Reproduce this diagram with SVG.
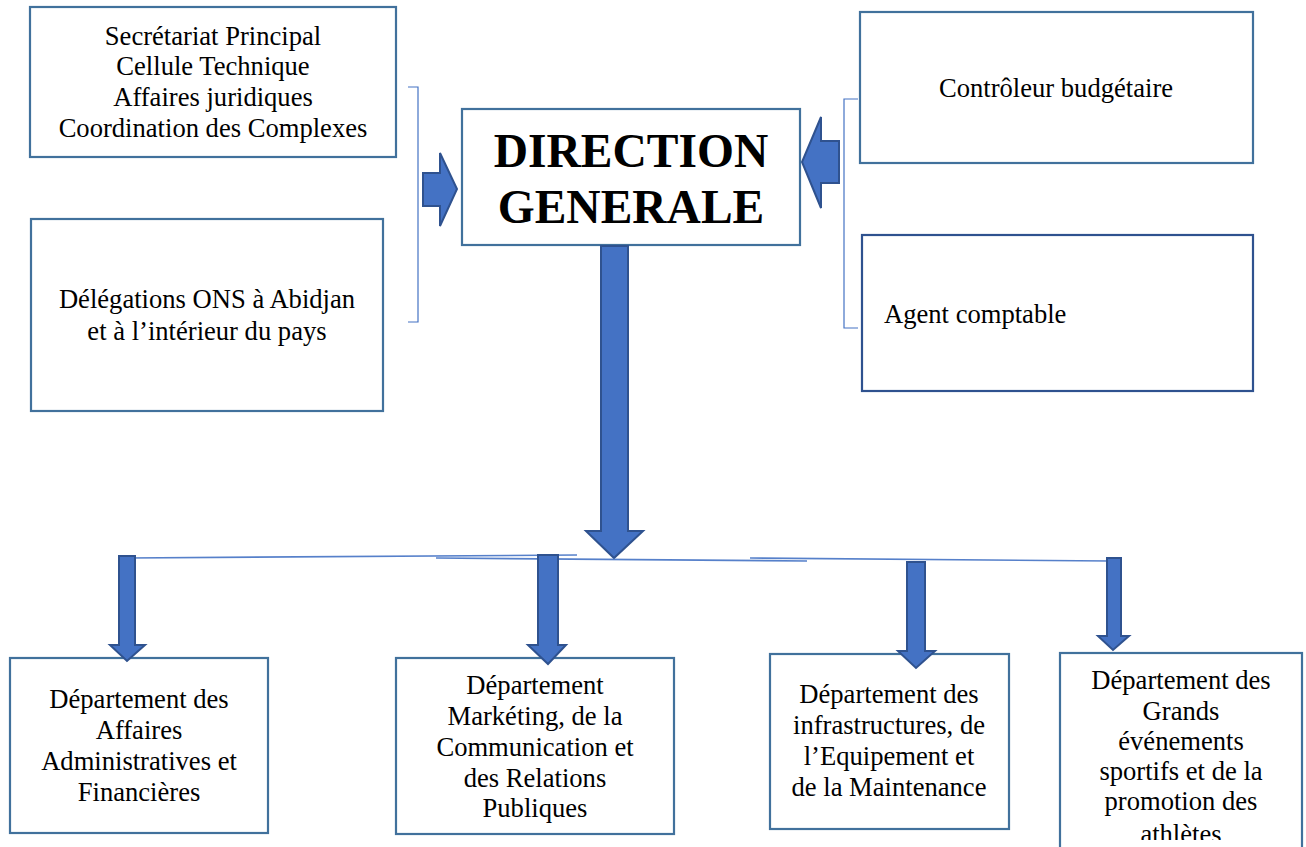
<svg xmlns="http://www.w3.org/2000/svg" width="1306" height="847" viewBox="0 0 1306 847">
<defs>
<style>
.box{fill:#fff;stroke:#41719C;stroke-width:2.2}
.box2{fill:#fff;stroke:#2F528F;stroke-width:2.2}
.arr{fill:#4472C4;stroke:#2F528F;stroke-width:2;stroke-linejoin:miter}
.br{fill:none;stroke:#4472C4;stroke-width:1.2}
.ln{fill:none;stroke:#4472C4;stroke-width:1.6;stroke-opacity:0.9}
text{font-family:"Liberation Serif","Times New Roman",serif;font-size:26.6px;fill:#000}
.c{text-anchor:middle}
.t{font-size:47.5px;font-weight:bold}
</style>
<clipPath id="clip4"><rect x="1060" y="653" width="242" height="187"/></clipPath>
</defs>
<rect width="1306" height="847" fill="#fff"/>

<g id="node-secretariat">
<rect class="box" x="30" y="7" width="366" height="150"/>
<text class="c" x="213" y="45">Secrétariat Principal</text>
<text class="c" x="213" y="75">Cellule Technique</text>
<text class="c" x="213" y="106">Affaires juridiques</text>
<text class="c" x="213" y="137">Coordination des Complexes</text>
</g>

<g id="node-delegations">
<rect class="box" x="31" y="219" width="352" height="192"/>
<text class="c" x="207" y="308">Délégations ONS à Abidjan</text>
<text class="c" x="207" y="340">et à l’intérieur du pays</text>
</g>

<g id="node-direction">
<rect class="box" x="462" y="109" width="338" height="136"/>
<text class="c t" x="631" y="167">DIRECTION</text>
<text class="c t" x="631" y="223">GENERALE</text>
</g>

<g id="node-controleur">
<rect class="box" x="860" y="12" width="393" height="151"/>
<text class="c" x="1056" y="97">Contrôleur budgétaire</text>
</g>

<g id="node-agent">
<rect class="box2" x="862" y="235" width="391" height="156"/>
<text x="884" y="323">Agent comptable</text>
</g>

<g id="node-daaf">
<rect class="box" x="10" y="658" width="258" height="175"/>
<text class="c" x="139" y="708">Département des</text>
<text class="c" x="139" y="739">Affaires</text>
<text class="c" x="139" y="770">Administratives et</text>
<text class="c" x="139" y="801">Financières</text>
</g>

<g id="node-dmcrp">
<rect class="box" x="396" y="658" width="278" height="176"/>
<text class="c" x="535" y="694">Département</text>
<text class="c" x="535" y="725">Markéting, de la</text>
<text class="c" x="535" y="756">Communication et</text>
<text class="c" x="535" y="787">des Relations</text>
<text class="c" x="535" y="817">Publiques</text>
</g>

<g id="node-diem">
<rect class="box" x="770" y="654" width="239" height="175"/>
<text class="c" x="889" y="703">Département des</text>
<text class="c" x="889" y="734">infrastructures, de</text>
<text class="c" x="889" y="765">l’Equipement et</text>
<text class="c" x="889" y="796">de la Maintenance</text>
</g>

<g id="node-dgesp">
<rect class="box" x="1060" y="653" width="242" height="210"/>
<g clip-path="url(#clip4)">
<text class="c" x="1181" y="689">Département des</text>
<text class="c" x="1181" y="720">Grands</text>
<text class="c" x="1181" y="750">événements</text>
<text class="c" x="1181" y="780">sportifs et de la</text>
<text class="c" x="1181" y="810">promotion des</text>
<text class="c" x="1181" y="843">athlètes</text>
</g>
</g>

<g id="connectors">
<path class="br" d="M408,87 H418 V322 H408"/>
<path class="br" d="M858,99 H844 V328 H858"/>
<polygon class="arr" points="423,173 440,173 440,153 457,189 440,226 440,206 423,206"/>
<polygon class="arr" points="839,141 821,141 821,117 802,162 821,208 821,183 839,183"/>
<polygon class="arr" points="601,246 628,246 628,531 643,531 614,558 586,531 601,531"/>
<path class="ln" d="M128,558 L577,555"/>
<path class="ln" d="M436,558 L807,561"/>
<path class="ln" d="M750,558 L1110,561"/>
<polygon class="arr" points="119,556 135,556 135,645 145,645 127,661 110,645 119,645"/>
<polygon class="arr" points="538,555 558,555 558,645 566,645 548,664 528,645 538,645"/>
<polygon class="arr" points="907,562 925,562 925,651 935,651 916,668 898,651 907,651"/>
<polygon class="arr" points="1107,558 1121,558 1121,636 1129,636 1113,650 1098,636 1107,636"/>
</g>
</svg>
